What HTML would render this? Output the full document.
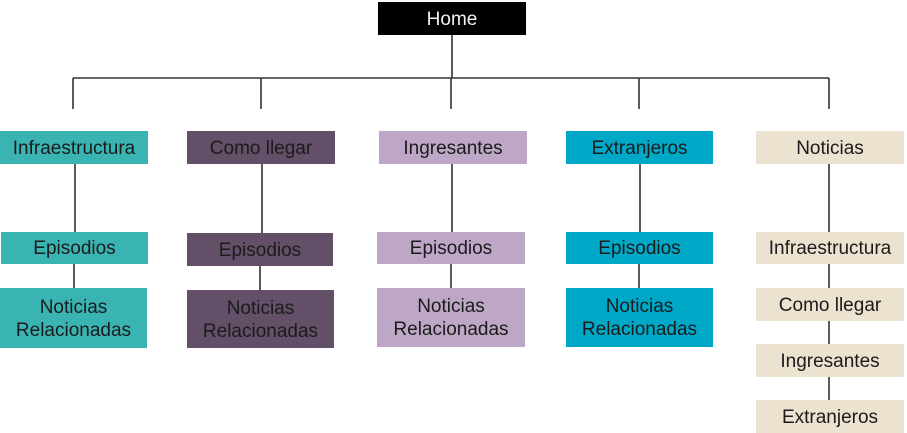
<!DOCTYPE html>
<html>
<head>
<meta charset="utf-8">
<style>
  html,body{margin:0;padding:0;background:#fff;}
  body{width:907px;height:433px;position:relative;overflow:hidden;font-family:"Liberation Sans",sans-serif;}
  .b{position:absolute;display:flex;align-items:center;justify-content:center;text-align:center;color:#1b1b1b;font-size:19px;line-height:23px;box-sizing:border-box;padding-top:1px;}
  .teal{background:#3ab4b3;}
  .dp{background:#634f68;}
  .lp{background:#bea7c6;}
  .cy{background:#00a8c8;}
  .bg{background:#ece2d0;}
  svg{position:absolute;left:0;top:0;}
</style>
</head>
<body>
<svg width="907" height="433">
  <g stroke="#333" stroke-width="1.6" fill="none">
    <line x1="452" y1="35" x2="452" y2="78"/>
    <line x1="73" y1="78" x2="829" y2="78"/>
    <line x1="73" y1="78" x2="73" y2="109"/>
    <line x1="261" y1="78" x2="261" y2="109"/>
    <line x1="451" y1="78" x2="451" y2="109"/>
    <line x1="639" y1="78" x2="639" y2="109"/>
    <line x1="829" y1="78" x2="829" y2="109"/>

    <line x1="75" y1="164" x2="75" y2="232"/>
    <line x1="74" y1="264" x2="74" y2="288"/>
    <line x1="262" y1="164" x2="262" y2="233"/>
    <line x1="260" y1="266" x2="260" y2="290"/>
    <line x1="452" y1="164" x2="452" y2="232"/>
    <line x1="451" y1="264" x2="451" y2="288"/>
    <line x1="640" y1="164" x2="640" y2="232"/>
    <line x1="639" y1="264" x2="639" y2="288"/>
    <line x1="829" y1="164" x2="829" y2="232"/>
    <line x1="829" y1="264" x2="829" y2="288"/>
    <line x1="829" y1="321" x2="829" y2="344"/>
    <line x1="829" y1="377" x2="829" y2="400"/>
  </g>
</svg>

<div class="b" style="left:378px;top:2px;width:148px;height:33px;background:#000;color:#f2f2f2;">Home</div>

<div class="b teal" style="left:0;top:131px;width:148px;height:33px;">Infraestructura</div>
<div class="b dp" style="left:187px;top:131px;width:148px;height:33px;">Como llegar</div>
<div class="b lp" style="left:379px;top:131px;width:148px;height:33px;">Ingresantes</div>
<div class="b cy" style="left:566px;top:131px;width:147px;height:33px;">Extranjeros</div>
<div class="b bg" style="left:756px;top:131px;width:148px;height:33px;">Noticias</div>

<div class="b teal" style="left:1px;top:232px;width:147px;height:32px;">Episodios</div>
<div class="b dp" style="left:187px;top:233px;width:146px;height:33px;">Episodios</div>
<div class="b lp" style="left:377px;top:232px;width:148px;height:32px;">Episodios</div>
<div class="b cy" style="left:566px;top:232px;width:147px;height:32px;">Episodios</div>

<div class="b teal" style="left:0;top:288px;width:147px;height:60px;">Noticias<br>Relacionadas</div>
<div class="b dp" style="left:187px;top:290px;width:147px;height:58px;">Noticias<br>Relacionadas</div>
<div class="b lp" style="left:377px;top:288px;width:148px;height:59px;">Noticias<br>Relacionadas</div>
<div class="b cy" style="left:566px;top:288px;width:147px;height:59px;">Noticias<br>Relacionadas</div>

<div class="b bg" style="left:756px;top:232px;width:148px;height:32px;">Infraestructura</div>
<div class="b bg" style="left:756px;top:288px;width:148px;height:33px;">Como llegar</div>
<div class="b bg" style="left:756px;top:344px;width:148px;height:33px;">Ingresantes</div>
<div class="b bg" style="left:756px;top:400px;width:148px;height:33px;">Extranjeros</div>
</body>
</html>
